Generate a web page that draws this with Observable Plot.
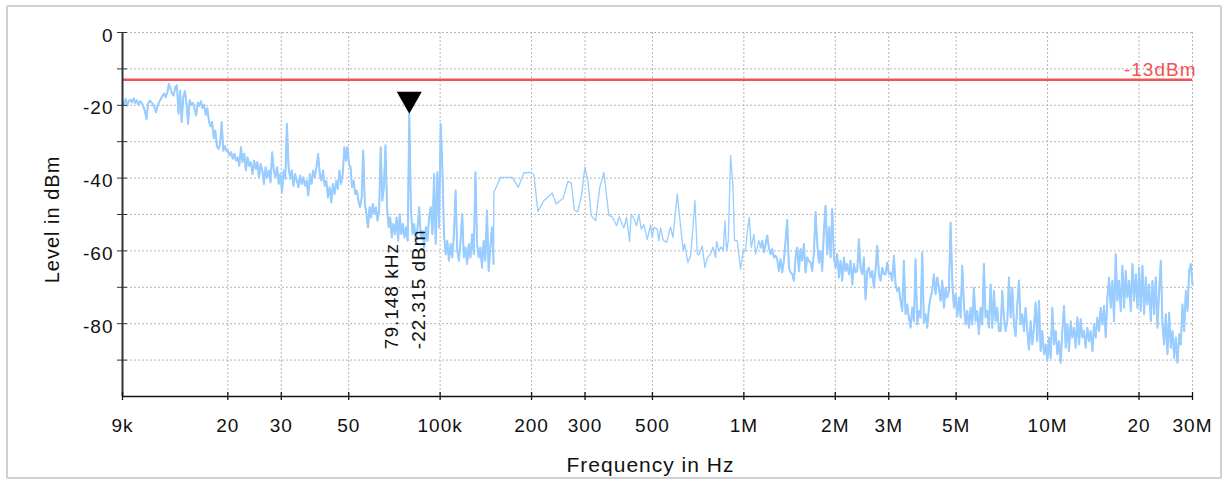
<!DOCTYPE html>
<html><head><meta charset="utf-8">
<script src="https://cdn.jsdelivr.net/npm/d3@7"></script>
<script src="https://cdn.jsdelivr.net/npm/@observablehq/plot@0.6"></script>
<style>
html,body{margin:0;padding:0;background:#fff;}
#wrap{position:relative;width:1229px;height:481px;overflow:hidden;}
#frame{position:absolute;left:6px;top:5px;width:1216px;height:474px;box-sizing:border-box;border:2px solid #d0d0d0;border-radius:2px;}
#chart{position:absolute;left:0;top:0;}
#chart svg text{letter-spacing:1px;}
</style></head><body>
<div id="wrap"><div id="frame"></div><div id="chart"></div></div>
<script>
// ---- axis / annotation data ----
const xTicks = [9e3, 2e4, 3e4, 5e4, 1e5, 2e5, 3e5, 5e5, 1e6, 2e6, 3e6, 5e6, 1e7, 2e7, 3e7];
const xTickLabels = ["9k","20","30","50","100k","200","300","500","1M","2M","3M","5M","10M","20","30M"];
const yTicks = [0, -10, -20, -30, -40, -50, -60, -70, -80, -90];
const yLabelTicks = [0, -20, -40, -60, -80];
const yTickLabels = ["0", "-20", "-40", "-60", "-80"];
const xTitle = "Frequency in Hz";
const yTitle = "Level in dBm";
const limitLevel = -13;
const limitLabel = "-13dBm";
const markerFreq = 79148;
const markerLevel = -22.315;
const markerText = "79.148 kHz\n-22.315 dBm";

// ---- trace: sweep segments (start Hz, stop Hz, levels in dBm, log-spaced sweep points) ----
const segA_range = [9000, 19800];
const segA = [-18.8,-19.6,-18.2,-20.1,-18.7,-18.5,-19.2,-18.1,-19.4,-18.6,-19.9,-18.9,-19.3,-20.3,-21.6,-23.8,-19.6,-18.7,-19.1,-19.7,-20.6,-21.9,-20.0,-19.0,-18.2,-17.4,-16.8,-17.8,-16.4,-14.1,-15.5,-16.8,-17.3,-15.0,-14.5,-22.3,-16.0,-24.6,-17.7,-16.1,-19.5,-25.1,-18.6,-19.8,-19.3,-21.0,-22.8,-19.3,-20.2,-18.9,-20.8,-19.8,-22.6,-20.8,-24.3,-25.8,-24.6,-29.0,-26.9,-31.3,-32.0,-30.7,-24.6,-32.5,-31.2,-32.6];
const segB_range = [20000, 49000];
const segB = [-32.4,-33.8,-32.9,-34.7,-33.3,-35.2,-34.3,-36.6,-31.5,-35.6,-33.3,-37.9,-34.3,-36.6,-35.6,-38.9,-35.2,-37.5,-35.6,-39.8,-36.1,-37.9,-41.6,-37.0,-39.8,-37.9,-41.2,-32.9,-37.9,-39.8,-37.0,-41.6,-38.9,-43.9,-37.9,-40.2,-25.1,-37.0,-40.2,-37.9,-42.1,-38.9,-40.7,-42.5,-39.3,-41.6,-39.8,-42.1,-40.7,-44.8,-38.9,-41.6,-37.9,-39.8,-37.0,-33.3,-38.9,-40.7,-37.9,-42.1,-40.7,-45.3,-42.5,-46.7,-41.6,-44.4,-40.7,-43.0,-37.9,-41.6,-38.9,-31.5,-35.2];
const segC1_range = [49500, 79148];
const segC1 = [-31.5,-36.1,-37.0,-42.5,-40.7,-44.4,-43.4,-46.2,-48.0,-45.3,-32.4,-47.1,-49.9,-53.5,-48.0,-50.8,-47.1,-49.9,-48.0,-51.7,-48.9,-31.5,-46.2,-42.5,-31.0,-48.0,-53.5,-50.8,-56.3,-52.6,-55.4,-50.8,-57.2,-49.9,-55.4,-52.6,-56.3,-53.5,-57.2,-22.315];
const segC2_range = [79148, 150000];
const segC2 = [-22.315,-48.9,-55.4,-52.6,-58.1,-53.5,-48.0,-56.3,-54.5,-59.1,-53.5,-57.2,-50.8,-48.0,-55.4,-38.9,-58.1,-38.4,-53.5,-25.1,-37.0,-55.4,-60.9,-57.2,-62.7,-58.1,-61.8,-55.4,-43.4,-59.9,-62.7,-57.2,-49.9,-61.8,-59.1,-63.6,-58.1,-61.8,-55.4,-60.9,-38.4,-58.1,-61.8,-59.1,-64.6,-57.2,-62.7,-48.9,-65.5,-59.1,-53.5,-63.6];
// sparse part 150 kHz .. 1.12 MHz (explicit frequencies in kHz)
const segD_kHz = [150.3,158.1,172.7,180.8,188.6,197.5,203.6,209.8,219.5,233.8,241.1,254.3,263.4,270.1,277.0,284.1,292.1,299.6,306.6,314.4,324.9,335.7,346.0,359.4,368.7,381.0,388.7,402.7,410.9,420.4,425.7,436.6,443.2,451.2,459.3,468.6,480.7,493.0,499.2,505.5,518.5,525.1,531.8,542.7,556.6,573.7,583.9,603.5,615.8,631.6,638.0,654.3,667.7,679.6,690.0,702.4,711.4,729.5,744.5,757.8,777.2,791.0,807.3,813.5,827.9,842.7,855.5,866.4,877.5,888.7,904.1,920.3,932.1,951.1,975.4,995.2,1013,1026,1042,1058,1079,1093,1121];
const segD = [-43.9,-39.8,-39.8,-42.5,-38.6,-38.4,-39.0,-49.2,-46.2,-44.1,-47.1,-45.5,-40.9,-41.3,-48.9,-49.2,-44.8,-37.0,-40.7,-50.3,-51.7,-42.5,-38.4,-50.3,-50.6,-53.1,-50.6,-53.7,-50.8,-57.4,-49.9,-51.5,-53.1,-49.9,-54.0,-52.8,-56.9,-52.9,-56.3,-53.5,-54.0,-57.2,-53.7,-57.0,-57.7,-53.4,-56.3,-44.4,-51.3,-60.0,-58.1,-63.2,-61.4,-53.7,-46.2,-60.7,-61.1,-58.6,-64.6,-61.8,-60.9,-58.9,-61.8,-57.4,-60.0,-58.9,-60.0,-51.7,-60.0,-57.2,-33.8,-42.1,-57.2,-57.2,-65.0,-60.0,-60.0,-54.9,-50.8,-59.1,-55.4,-60.9,-57.2];
const segE_range = [1135000, 6914000];
const segE = [-59.1,-57.2,-60.4,-58.1,-55.8,-59.1,-60.9,-59.5,-61.8,-61.3,-62.3,-65.5,-62.3,-65.9,-62.7,-57.2,-51.5,-64.6,-65.9,-66.4,-68.2,-61.8,-59.1,-65.5,-59.5,-62.7,-58.1,-65.9,-61.8,-62.7,-63.2,-65.5,-60.4,-49.4,-58.1,-63.2,-60.0,-65.5,-54.5,-47.6,-60.9,-53.5,-61.8,-48.5,-61.8,-64.6,-60.9,-67.3,-62.7,-68.2,-61.8,-65.5,-63.6,-66.4,-62.7,-69.2,-63.6,-65.9,-65.5,-56.8,-64.6,-66.4,-61.8,-73.3,-65.5,-64.6,-67.3,-65.5,-70.1,-65.0,-58.6,-66.4,-68.2,-64.6,-66.4,-66.4,-63.2,-66.4,-65.9,-68.2,-61.3,-69.2,-71.0,-70.1,-73.7,-76.5,-62.7,-77.4,-74.7,-78.3,-81.1,-75.6,-79.3,-62.3,-80.2,-76.5,-78.3,-60.4,-79.7,-77.4,-81.1,-75.6,-72.8,-71.0,-66.4,-71.9,-67.3,-70.1,-73.7,-68.2,-75.6,-70.1,-72.8,-71.0,-52.2,-68.2,-75.6,-71.9,-77.9,-72.8,-78.3,-64.1,-74.7,-80.2,-76.5,-81.1,-75.6,-80.2,-70.1,-79.3,-76.5,-82.9,-75.6,-80.2,-63.6,-78.3,-76.5,-81.1,-69.2,-81.1,-71.0,-79.3,-75.6,-82.0];
const segF_range = [7003000, 30000000];
const segF = [-82.0,-71.0,-78.3,-82.0,-79.3,-67.3,-78.3,-70.1,-80.2,-83.4,-74.7,-68.1,-80.2,-77.4,-82.0,-75.6,-82.0,-87.1,-79.3,-85.7,-81.1,-74.2,-84.8,-73.7,-87.5,-82.0,-88.4,-85.7,-90.3,-83.8,-89.4,-75.6,-85.7,-82.0,-88.4,-84.8,-90.7,-82.0,-75.1,-86.6,-80.2,-87.5,-79.3,-83.8,-81.1,-86.6,-78.3,-85.7,-78.8,-83.8,-82.0,-86.6,-81.1,-84.8,-82.0,-87.5,-80.2,-83.8,-78.3,-82.0,-75.6,-80.2,-75.1,-83.8,-72.8,-67.3,-75.6,-68.2,-79.3,-60.9,-73.7,-68.2,-76.5,-64.1,-75.6,-65.5,-72.8,-68.2,-76.5,-63.6,-73.7,-66.4,-75.6,-64.6,-76.5,-64.1,-77.4,-67.3,-74.7,-69.2,-79.3,-68.2,-77.4,-67.3,-81.1,-71.0,-62.7,-80.2,-85.7,-77.4,-88.4,-77.0,-86.6,-82.0,-89.4,-83.8,-90.7,-82.9,-85.7,-74.7,-82.0,-71.0,-76.5,-65.5,-63.6,-69.2];

function sweep(range, levels, part) {
  const [f0, f1] = range, n = levels.length;
  return levels.map((level, i) => ({f: f0 * Math.pow(f1 / f0, i / (n - 1)), level, part}));
}
const trace = [
  ...sweep(segA_range, segA, "low"),
  ...sweep(segB_range, segB, "low"),
  ...sweep(segC1_range, segC1, "low"),
  ...sweep(segC2_range, segC2, "low"),
  ...segD_kHz.map((k, i) => ({f: k * 1000, level: segD[i], part: "mid"})),
  ...sweep(segE_range, segE, "high"),
  ...sweep(segF_range, segF, "high")
];
const denseTrace = trace.filter(d => d.part !== "mid");

const xLabelMap = new Map(xTicks.map((t, i) => [t, xTickLabels[i]]));
const yLabelMap = new Map(yLabelTicks.map((t, i) => [t, yTickLabels[i]]));
const red = "#f25252";
const traceColor = "#99ccff";
const triDown = {draw(ctx) { ctx.moveTo(0, 0); ctx.lineTo(-12.5, -22); ctx.lineTo(12.5, -22); ctx.closePath(); }};

const chart = Plot.plot({
  width: 1229, height: 481,
  marginLeft: 122, marginRight: 37, marginTop: 32, marginBottom: 85,
  style: {fontFamily: "'Liberation Sans', Arial, sans-serif", fontSize: "19px", color: "#111", background: "transparent"},
  x: {type: "log", domain: [9000, 30e6], axis: null, label: null},
  y: {domain: [-100, 0], axis: null, label: null},
  marks: [
    Plot.gridX(xTicks, {stroke: "#b5b5b5", strokeOpacity: 1, strokeDasharray: "2,2", strokeWidth: 1}),
    Plot.gridY(yTicks, {stroke: "#b5b5b5", strokeOpacity: 1, strokeDasharray: "2,2", strokeWidth: 1}),
    Plot.ruleY([limitLevel], {stroke: red, strokeWidth: 2.5}),
    Plot.line(trace, {x: "f", y: "level", stroke: traceColor, strokeWidth: 1.3}),
    Plot.line(denseTrace, {x: "f", y: "level", z: "part", stroke: traceColor, strokeWidth: 2}),
    Plot.ruleX([9000], {stroke: "#333", strokeWidth: 2}),
    Plot.ruleY([-100], {stroke: "#111", strokeWidth: 1.6}),
    Plot.axisY(yTicks, {tickSize: 10, dx: 5, tickFormat: () => "", stroke: "#333", label: null}),
    Plot.text(yLabelTicks, {y: d => d, frameAnchor: "left", textAnchor: "end", dx: -9, dy: 3, text: d => yLabelMap.get(d), fill: "#111", fontSize: 19}),
    Plot.ruleX(xTicks, {x: d => d, y1: -101.1, y2: -98.9, stroke: "#111", strokeWidth: 1.3}),
    Plot.text(xTicks, {x: d => d, frameAnchor: "bottom", lineAnchor: "top", dy: 22, text: d => xLabelMap.get(d), fill: "#111", fontSize: 19}),
    Plot.text([xTitle], {frameAnchor: "bottom", textAnchor: "middle", dx: -7, dy: 75, text: d => d, fontSize: 21, fill: "#111"}),
    Plot.text([yTitle], {frameAnchor: "left", textAnchor: "middle", dx: -70, dy: 5, rotate: -90, text: d => d, fontSize: 20, fill: "#111"}),
    Plot.text([limitLabel], {y: () => limitLevel, frameAnchor: "right", textAnchor: "end", lineAnchor: "bottom", dx: 4, dy: -4, fill: red, text: d => d, fontSize: 19, style: "letter-spacing:1.6px"}),
    Plot.dot([{f: markerFreq, level: markerLevel}], {x: "f", y: "level", symbol: triDown, r: 10, fill: "#000", stroke: "none"}),
    Plot.text([markerText], {x: () => markerFreq, y: () => -87, rotate: -90, textAnchor: "start", lineAnchor: "middle", lineHeight: 1.4, text: d => d, dx: -6, fontSize: 19, fill: "#111"})
  ]
});
document.getElementById("chart").appendChild(chart);
</script>
</body></html>
